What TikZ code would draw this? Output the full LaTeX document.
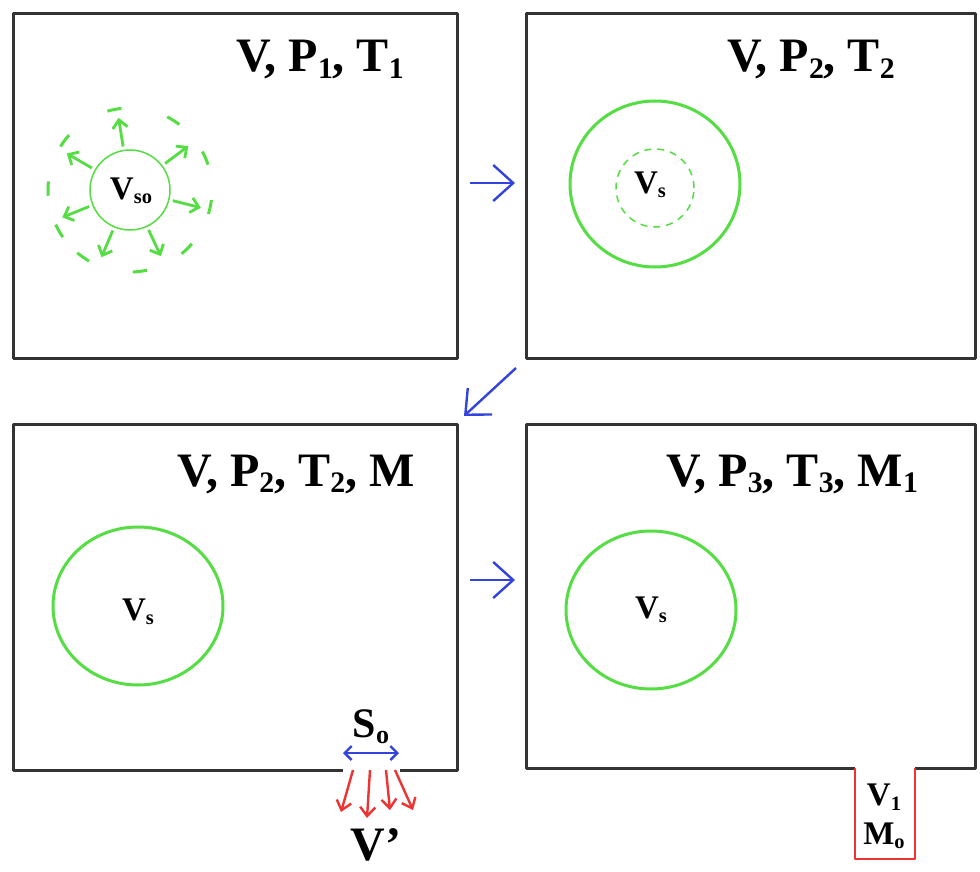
\documentclass[tikz,border=0pt]{standalone}
\usepackage{fontspec}
\setmainfont{Liberation Serif}
\usetikzlibrary{arrows.meta,shapes.geometric}
\definecolor{boxc}{HTML}{333333}
\definecolor{grn}{HTML}{55DD44}
\definecolor{blu}{HTML}{3344DD}
\definecolor{rd}{HTML}{EE3333}
\newcommand{\mysub}[1]{\raisebox{-0.3ex}{\scalebox{0.62}{#1}}}
\tikzset{
  chamber/.style={draw=boxc, line width=3pt, line join=round},
  bigtxt/.style={font=\fontsize{48}{52}\selectfont\bfseries, inner sep=0pt},
  midtxt/.style={font=\fontsize{33}{36}\selectfont\bfseries, inner sep=0pt},
  garrow/.style={draw=grn, line width=2.8pt, -{Straight Barb[length=8pt,width=15pt]}},
  gdash/.style={draw=grn, line width=3pt},
  barrow/.style={draw=blu, line width=2.4pt, -{Straight Barb[length=20pt,width=36pt]}},
  rarrow/.style={draw=rd, line width=2.4pt, -{Straight Barb[length=9pt,width=15pt]}},
}
\begin{document}
\begin{tikzpicture}[x=1pt,y=-1pt]
\useasboundingbox[fill=white] (0,0) rectangle (980,872);
% chambers
\draw[chamber] (13,14) rectangle (457,358);
\draw[chamber] (526,14) rectangle (975,358);
\draw[chamber] (343,770) -- (13,770) -- (13,424) -- (457,424) -- (457,770) -- (400,770);
\draw[chamber] (855,768) -- (526,768) -- (526,424) -- (975,424) -- (975,768) -- (915,768);
% labels
\node[bigtxt] (l1) at (320,60) {V, P\mysub{1}, T\mysub{1}};
\node[bigtxt] (l2) at (811,60) {V, P\mysub{2}, T\mysub{2}};
\node[bigtxt] (l3) at (296,474) {V, P\mysub{2}, T\mysub{2}, M};
\node[bigtxt] (l4) at (792,474) {V, P\mysub{3}, T\mysub{3}, M\mysub{1}};
% panel 1
\node[draw=grn, line width=1.5pt, circle, minimum size=80pt, inner sep=0pt] (c1) at (130,190) {};
\node[midtxt] (t1) at (131,191) {V\mysub{so}};
\foreach \a in {14,65,113,158,210,261,323}{
  \draw[garrow] ([shift={(\a:44)}]c1.center) -- ([shift={(\a:73)}]c1.center);
}
\foreach \a in {12,46,83,125,150,181,217,259,302,337}{
  \draw[gdash] ([shift={(\a-5:82)}]c1.center) arc[start angle=\a-5, delta angle=10, radius=82];
}
% panel 2
\node[draw=grn, line width=3pt, ellipse, minimum width=170pt, minimum height=166pt, inner sep=0pt] (c2) at (655,184) {};
\node[draw=grn, line width=1.5pt, dash pattern=on 7pt off 6pt, circle, minimum size=78pt, inner sep=0pt] (c2i) at (655,188) {};
\node[midtxt] (t2) at (650,185) {V\mysub{s}};
% panel 3
\node[draw=grn, line width=3pt, ellipse, minimum width=170pt, minimum height=158pt, inner sep=0pt] (c3) at (138,606) {};
\node[midtxt] (t3) at (138,612) {V\mysub{s}};
% panel 4
\node[draw=grn, line width=3pt, ellipse, minimum width=170pt, minimum height=158pt, inner sep=0pt] (c4) at (651,610) {};
\node[midtxt] (t4) at (651,610) {V\mysub{s}};
% transitions
\coordinate (a1s) at (470,183); \coordinate (a1e) at (515,183);
\coordinate (a2s) at (516,368); \coordinate (a2e) at (464,416);
\coordinate (a3s) at (470,580); \coordinate (a3e) at (515,580);
\draw[barrow] (a1s) -- (a1e);
\draw[barrow] (a2s) -- (a2e);
\draw[barrow] (a3s) -- (a3e);
% orifice
\node[font=\fontsize{42}{46}\selectfont\bfseries, inner sep=0pt] (so) at (371,727) {S\mysub{o}};
\coordinate (sl) at (343,753); \coordinate (sr) at (399,753);
\draw[draw=blu, line width=2.4pt, {Straight Barb[length=7pt,width=14pt]}-{Straight Barb[length=7pt,width=14pt]}] (sl) -- (sr);
\coordinate (r1s) at (353,770); \coordinate (r1e) at (341,812);
\coordinate (r2s) at (370,770); \coordinate (r2e) at (367,818);
\coordinate (r3s) at (386,770); \coordinate (r3e) at (390,810);
\coordinate (r4s) at (395,770); \coordinate (r4e) at (413,810);
\draw[rarrow] (r1s) -- (r1e);
\draw[rarrow] (r2s) -- (r2e);
\draw[rarrow] (r3s) -- (r3e);
\draw[rarrow] (r4s) -- (r4e);
\node[font=\fontsize{48}{52}\selectfont\bfseries, inner sep=0pt] (vp) at (376,845) {V'};
% collector
\draw[draw=rd, line width=2.4pt, line join=round] (855,768) -- (855,859) -- (915,859) -- (915,768);
\node[midtxt] (v1) at (884,797) {V\mysub{1}};
\node[midtxt] (mo) at (884,836) {M\mysub{o}};
\end{tikzpicture}
\end{document}
